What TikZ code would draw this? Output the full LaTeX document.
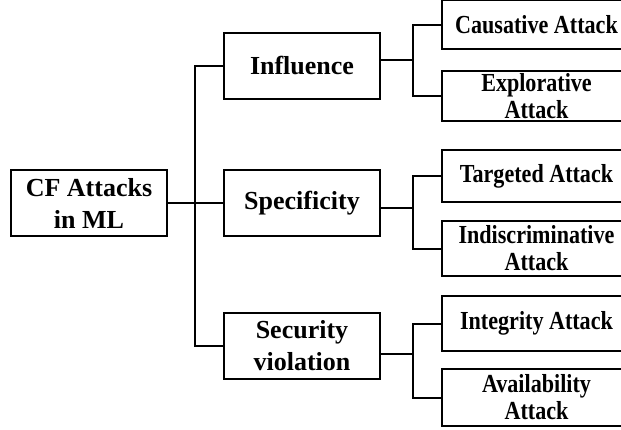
\documentclass[tikz,border=0pt]{standalone}
\usepackage{fontspec}
\setmainfont{Liberation Serif}
\newfontfamily\narrowfont[FakeStretch=0.85]{Liberation Serif}
\begin{document}
\begin{tikzpicture}[x=1pt,y=1pt,
  mainbox/.style={draw=black,line width=2.2pt,inner sep=0pt,minimum width=156pt,minimum height=66pt,align=center,
    font=\fontsize{26}{32}\selectfont\bfseries},
  leafbox/.style={draw=black,line width=2.2pt,inner sep=0pt,minimum width=189pt,align=center,
    font=\narrowfont\fontsize{26}{27}\selectfont\bfseries},
  conn/.style={draw=black,line width=2pt}]
\useasboundingbox (0,0) rectangle (621,-429);
% root and categories
\node[mainbox] (root) at (89,-203) {CF Attacks\\in ML};
\node[mainbox] (inf) at (302,-66) {Influence};
\node[mainbox] (spec) at (302,-203) {Specificity};
\node[mainbox] (sec) at (302,-346) {Security\\violation};
% leaves
\node[leafbox,minimum height=49pt] (caus) at (536.5,-24.5) {Causative Attack};
\node[leafbox,minimum height=50pt] (expl) at (536.5,-96) {Explorative\\Attack};
\node[leafbox,minimum height=52pt] (targ) at (536.5,-176) {Targeted Attack};
\node[leafbox,minimum height=55pt] (indi) at (536.5,-248.5) {Indiscriminative\\Attack};
\node[leafbox,minimum height=55pt] (inte) at (536.5,-323.5) {Integrity Attack};
\node[leafbox,minimum height=57pt] (avai) at (536.5,-397.5) {Availability\\Attack};
% trunk
\coordinate (trunk) at (195,-203);
\draw[conn] (root.east) -- (trunk);
\draw[conn] (inf.west) -| (trunk) |- (sec.west);
\draw[conn] (trunk) -- (spec.west);
% branch junctions
\coordinate (j1) at (413,-60);
\coordinate (j2) at (413,-208);
\coordinate (j3) at (413,-354);
\draw[conn] (inf.east |- j1) -- (j1);
\draw[conn] (caus.west) -| (j1) |- (expl.west);
\draw[conn] (spec.east |- j2) -- (j2);
\draw[conn] (targ.west) -| (j2) |- (indi.west);
\draw[conn] (sec.east |- j3) -- (j3);
\draw[conn] (inte.west) -| (j3) |- (avai.west);
\end{tikzpicture}
\end{document}
